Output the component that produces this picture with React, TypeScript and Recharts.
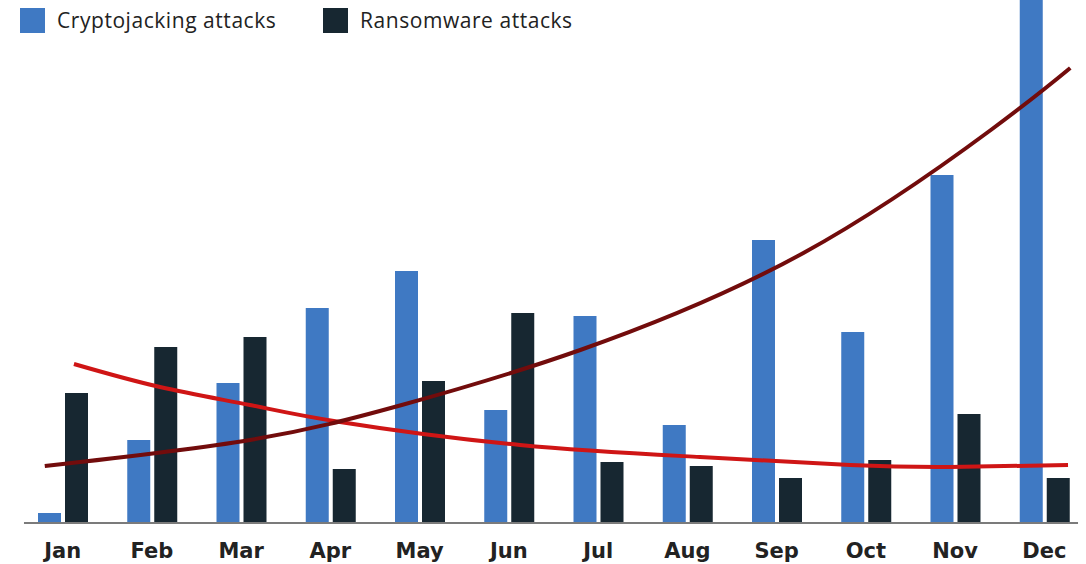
import React from 'react';
import { ComposedChart, Bar, Line, XAxis, YAxis, ReferenceLine } from 'recharts';

const months = ['Jan', 'Feb', 'Mar', 'Apr', 'May', 'Jun', 'Jul', 'Aug', 'Sep', 'Oct', 'Nov', 'Dec'];
const cryptojacking = [10, 83, 140, 215, 252, 113, 207, 98, 283, 191, 348, 560];
const ransomware = [130, 176, 186, 54, 142, 210, 61, 57, 45, 63, 109, 45];

// trend curves (x in month units, 0 = left edge of Jan band)
const cryptoTrendX = [0.3, 2.6, 4.3, 6.3, 8.8, 10.9, 11.79];
const cryptoTrendY = [57, 83, 118, 173, 270, 393, 455];
const ransomTrendX = [0.627, 1.591, 2.599, 3.608, 5.625, 7.641, 9.322, 10.443, 11.765];
const ransomTrendY = [159, 136, 118, 101, 78, 66, 58, 56, 58];

const baselineX = [0.067, 11.877];

const data = months.map((m, i) => ({ month: m, crypto: cryptojacking[i], ransom: ransomware[i] }));
const cryptoTrend = cryptoTrendX.map((x, i) => ({ x, y: cryptoTrendY[i] }));
const ransomTrend = ransomTrendX.map((x, i) => ({ x, y: ransomTrendY[i] }));

const BLUE = '#3f79c3';
const DARK = '#172731';

const Tick = (props: any) => {
  const { x, y, payload } = props;
  return (
    <text x={x} y={y + 35} textAnchor="middle" fontFamily="DejaVu Sans" fontWeight="bold" fontSize={21} fill="#222">
      {payload.value}
    </text>
  );
};

const legendItems = [
  { label: 'Cryptojacking attacks', color: BLUE, left: 20, textLeft: 57 },
  { label: 'Ransomware attacks', color: DARK, left: 323, textLeft: 360 },
];

export default function App() {
  return (
    <div style={{ position: 'absolute', left: 0, top: 0, width: 1086, height: 564, background: '#fff', overflow: 'hidden' }}>
      <ComposedChart
        width={1086}
        height={564}
        data={data}
        margin={{ top: 0, right: -3, bottom: 0, left: 18 }}
        barGap={4}
      >
        <XAxis
          xAxisId="cat"
          dataKey="month"
          type="category"
          axisLine={false}
          tickLine={false}
          tickSize={0}
          tickMargin={0}
          height={41}
          interval={0}
          tick={<Tick />}
        />
        <XAxis xAxisId="num" dataKey="x" type="number" domain={[0, 12]} allowDataOverflow hide />
        <YAxis yAxisId="y" domain={[0, 523]} allowDataOverflow hide />
        <Bar xAxisId="cat" yAxisId="y" dataKey="crypto" fill={BLUE} barSize={23} isAnimationActive={false} />
        <Bar xAxisId="cat" yAxisId="y" dataKey="ransom" fill={DARK} barSize={23} isAnimationActive={false} />
        <ReferenceLine
          xAxisId="num"
          yAxisId="y"
          segment={[{ x: baselineX[0], y: 0 }, { x: baselineX[1], y: 0 }]}
          stroke="#7b7b7b"
          strokeWidth={2}
        />
        <Line
          xAxisId="num"
          yAxisId="y"
          data={ransomTrend}
          dataKey="y"
          type="natural"
          stroke="#cf1515"
          strokeWidth={4}
          dot={false}
          activeDot={false}
          isAnimationActive={false}
        />
        <Line
          xAxisId="num"
          yAxisId="y"
          data={cryptoTrend}
          dataKey="y"
          type="natural"
          stroke="#720c0c"
          strokeWidth={4}
          dot={false}
          activeDot={false}
          isAnimationActive={false}
        />
      </ComposedChart>
      {legendItems.map((it) => (
        <React.Fragment key={it.label}>
          <div style={{ position: 'absolute', left: it.left, top: 8, width: 25, height: 25, background: it.color }} />
          <div
            style={{
              position: 'absolute',
              left: it.textLeft,
              top: 5,
              fontFamily: '"Open Sans", sans-serif',
              fontSize: 21,
              letterSpacing: 0.55,
              lineHeight: '30px',
              color: '#222',
              whiteSpace: 'nowrap',
            }}
          >
            {it.label}
          </div>
        </React.Fragment>
      ))}
    </div>
  );
}
